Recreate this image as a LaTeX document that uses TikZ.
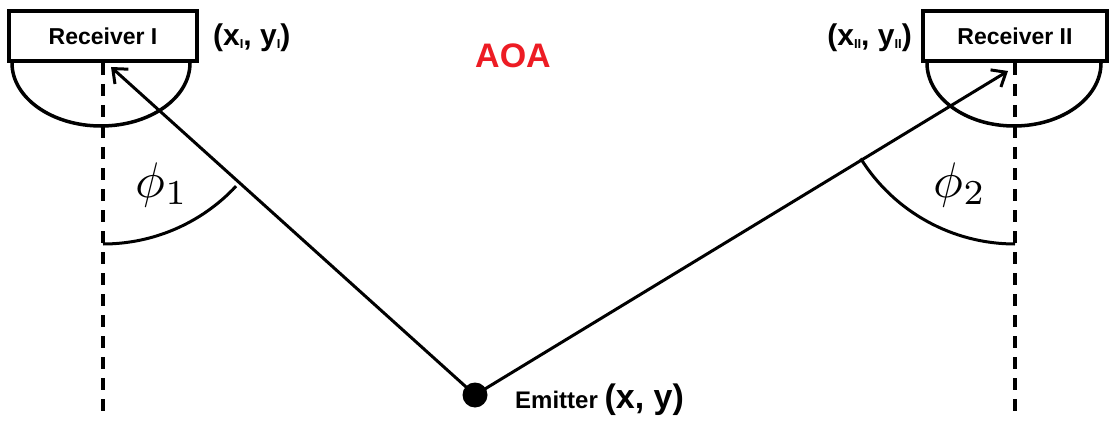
\documentclass[tikz,border=0pt]{standalone}
\usepackage{fontspec}
\setmainfont{Liberation Sans}
\usetikzlibrary{arrows.meta}
\definecolor{aoared}{RGB}{237,28,36}
\newcommand{\rxsub}[1]{{\fontsize{13}{14}\selectfont\raisebox{-3pt}{#1}}}
\tikzset{
  receiver/.style={draw,line width=4pt,minimum height=50pt,inner sep=0pt,font=\bfseries\fontsize{23}{26}\selectfont},
  axisline/.style={line width=3.6pt,dash pattern=on 12pt off 9pt},
  ray/.style={line width=3pt,-{Straight Barb[length=12pt,width=20pt]}},
  coordlabel/.style={font=\bfseries\fontsize{30}{32}\selectfont,inner sep=0pt},
}
\begin{document}
\begin{tikzpicture}[x=1pt,y=1pt]
  \useasboundingbox (0,0) rectangle (1112,424);
  % receivers
  \node [receiver,minimum width=188pt] (rxI) at (103,388) {Receiver I};
  \node [receiver,minimum width=184pt] (rxII) at (1015,388) {Receiver II};
  \node [coordlabel,anchor=west] (posI) at (213,386) {(x\rxsub{I}, y\rxsub{I})};
  \node [coordlabel,anchor=east] (posII) at (912,386) {(x\rxsub{II}, y\rxsub{II})};
  \node [font=\bfseries\fontsize{34}{36}\selectfont,text=aoared] (aoa) at (513,368) {AOA};
  % antenna domes
  \draw [line width=3.5pt] (rxI.south west) ++(5,0) arc [start angle=180,end angle=360,x radius=89,y radius=63];
  \draw [line width=3.5pt] (rxII.south west) ++(6,0) arc [start angle=180,end angle=360,x radius=87,y radius=63];
  % reference axes
  \coordinate (baseI) at (103,8);
  \coordinate (baseII) at (1015,8);
  \draw [axisline] (rxI.south) -- (baseI);
  \draw [axisline] (rxII.south) -- (baseII);
  % emitter and rays
  \node [circle,fill,inner sep=0pt,minimum size=25pt] (emitter) at (475,29) {};
  \node [anchor=west,inner sep=0pt] (emlabel) at (515,24) {\bfseries\fontsize{24}{26}\selectfont Emitter \fontsize{34}{36}\selectfont(x, y)};
  \coordinate (tipI) at (111,357);
  \coordinate (tipII) at (1008,353);
  \draw [ray] (emitter.center) -- (tipI);
  \draw [ray] (emitter.center) -- (tipII);
  % angles
  \draw [line width=3pt] (103,180) arc [start angle=-90,end angle=-43,radius=182];
  \draw [line width=3pt] (1015,180) arc [start angle=-90,end angle=-148,radius=182];
  \node (phiI) at (162,239) {\scalebox{5}{$\phi_1$}};
  \node (phiII) at (960,239) {\scalebox{5}{$\phi_2$}};
\end{tikzpicture}
\end{document}
